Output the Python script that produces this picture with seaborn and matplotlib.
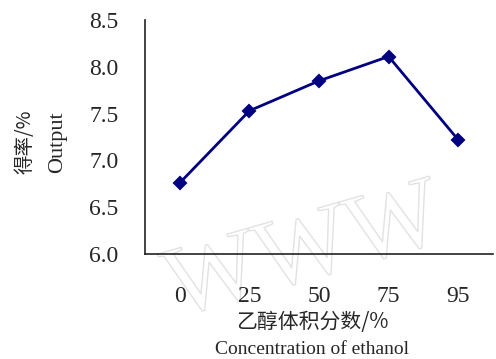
import matplotlib
matplotlib.use("Agg")
import matplotlib.pyplot as plt
import matplotlib.patheffects as pe
import seaborn as sns
import pandas as pd

categories = ["0", "25", "50", "75", "95"]
output = [6.76, 7.53, 7.85, 8.11, 7.22]
yticks = [6.0, 6.5, 7.0, 7.5, 8.0, 8.5]

sns.set_style("white")
plt.rcParams['font.family'] = ['Liberation Serif', 'Noto Sans CJK SC']

df = pd.DataFrame({"conc": categories, "out": output})

fig = plt.figure(figsize=(4.96, 3.59), dpi=100)
ax = fig.add_axes([145/496, 1-254/359, (493-145)/496, (254-20)/359])
ax.patch.set_alpha(0)

# faint outlined watermark
fig.text(305/496, 1-255/359, "WWW", fontsize=72, color="none", rotation=16,
         ha="center", va="center", family="Liberation Serif", zorder=-5,
         path_effects=[pe.Stroke(linewidth=1.0, foreground="#e2e2e2")])

sns.pointplot(data=df, x="conc", y="out", ax=ax, color="#000080",
              markers="D", markersize=6.5, linewidth=2.0, errorbar=None)

ax.set_xlim(-0.5, 4.5)
ax.set_ylim(6.0, 8.5)
ax.set_yticks(yticks)
ax.set_yticklabels([f"{v:.1f}" for v in yticks])
ax.set_xticks(range(len(categories)))
ax.set_xticklabels(categories)
ax.set_xticks([i + 0.5 for i in range(len(categories))], minor=True)
ax.tick_params(axis="x", which="major", length=0, pad=23, labelsize=17)
ax.tick_params(axis="x", which="minor", length=4, direction="in", width=0.8, color="#555555")
ax.tick_params(axis="y", which="major", length=4, direction="in", width=0.8,
               color="#555555", labelsize=17, pad=19)
ax.set_xlabel("")
ax.set_ylabel("")
for s in ["top", "right"]:
    ax.spines[s].set_visible(False)
for s in ["left", "bottom"]:
    ax.spines[s].set_color("#222222")
    ax.spines[s].set_linewidth(1.2)

fig.text(312/496, 1-322/359, "乙醇体积分数/%", ha="center", va="center",
         fontsize=15, family=["Noto Sans CJK SC", "DejaVu Sans"])
fig.text(312/496, 1-350/359, "Concentration of ethanol", ha="center", va="center",
         fontsize=14)
fig.text(25/496, 1-142/359, "得率/%", ha="center", va="center", rotation=90,
         fontsize=14, family=["Noto Sans CJK SC", "DejaVu Sans"])
fig.text(58/496, 1-142/359, "Output", ha="center", va="center", rotation=90,
         fontsize=16)

fig.savefig("out.png", dpi=100)
